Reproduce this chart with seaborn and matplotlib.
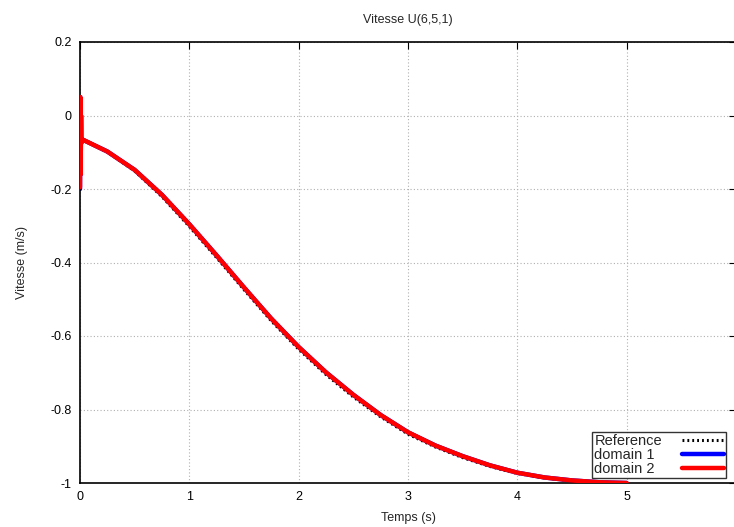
import matplotlib
matplotlib.use("Agg")
import matplotlib.pyplot as plt
import seaborn as sns
import pandas as pd

# ---- data ----
t_ref = [0.0, 0.25, 0.5, 0.75, 1.0, 1.25, 1.5, 1.75, 2.0, 2.25, 2.5, 2.75, 3.0,
         3.25, 3.5, 3.75, 4.0, 4.25, 4.5, 4.75, 5.0]
v_ref = [-0.063, -0.099, -0.151, -0.221, -0.302, -0.387, -0.474, -0.559, -0.636, -0.705,
         -0.766, -0.820, -0.867, -0.902, -0.931, -0.955, -0.974, -0.986, -0.994, -0.998, -1.0]

t_dom1 = [0.0, 0.003, 0.006, 0.009, 0.012, 0.02, 0.25, 0.5, 0.75, 1.0, 1.25, 1.5, 1.75,
          2.0, 2.25, 2.5, 2.75, 3.0, 3.25, 3.5, 3.75, 4.0, 4.25, 4.5, 4.75, 5.0]
v_dom1 = [-0.2, 0.05, -0.16, 0.0, -0.075, -0.065, -0.098, -0.148, -0.216, -0.296, -0.381,
          -0.468, -0.553, -0.630, -0.699, -0.760, -0.815, -0.862, -0.898, -0.927, -0.952,
          -0.972, -0.985, -0.993, -0.998, -1.0]

t_dom2 = [0.0, 0.003, 0.006, 0.009, 0.012, 0.02, 0.25, 0.5, 0.75, 1.0, 1.25, 1.5, 1.75,
          2.0, 2.25, 2.5, 2.75, 3.0, 3.25, 3.5, 3.75, 4.0, 4.25, 4.5, 4.75, 5.0]
v_dom2 = [-0.195, 0.05, -0.16, 0.0, -0.075, -0.065, -0.098, -0.148, -0.216, -0.296, -0.381,
          -0.468, -0.553, -0.630, -0.699, -0.760, -0.815, -0.862, -0.898, -0.927, -0.952,
          -0.972, -0.985, -0.993, -0.998, -1.0]

x_ticks = [0, 1, 2, 3, 4, 5, 6]
x_ticklabels = ["0", "1", "2", "3", "4", "5", ""]
y_ticks = [0.2, 0, -0.2, -0.4, -0.6, -0.8, -1]
y_ticklabels = ["0.2", "0", "-0.2", "-0.4", "-0.6", "-0.8", "-1"]
series_labels = ["Reference", "domain 1  ", "domain 2  "]

sns.set_style("white")
plt.rcParams["font.family"] = ["Liberation Sans", "DejaVu Sans"]

fig = plt.figure(figsize=(7.34, 5.27), dpi=100)
ax = fig.add_axes([80 / 734, 44 / 527, 656 / 734, 441 / 527])

df_ref = pd.DataFrame({"t": t_ref, "v": v_ref})
df_d1 = pd.DataFrame({"t": t_dom1, "v": v_dom1})
df_d2 = pd.DataFrame({"t": t_dom2, "v": v_dom2})

sns.lineplot(data=df_ref, x="t", y="v", ax=ax, color="black", linewidth=2.2,
             linestyle=(0, (0.6, 1.0)), label=series_labels[0], zorder=3, sort=False)
sns.lineplot(data=df_d1, x="t", y="v", ax=ax, color="#0000ff", linewidth=3.2,
             label=series_labels[1], zorder=2, sort=False)
sns.lineplot(data=df_d2, x="t", y="v", ax=ax, color="#ff0000", linewidth=3.2,
             label=series_labels[2], zorder=4, sort=False)

ax.set_xlim(0, 6)
ax.set_ylim(-1, 0.2)
ax.set_xticks(x_ticks)
ax.set_xticklabels(x_ticklabels)
ax.set_yticks(y_ticks)
ax.set_yticklabels(y_ticklabels)
ax.tick_params(direction="in", length=5, width=0.8, labelsize=9, colors="black",
               top=True, right=True, pad=6)
ax.grid(True, color="#b0b0b0", linestyle=(0, (1, 2)), linewidth=0.8)
for s in ax.spines.values():
    s.set_color("black")
    s.set_linewidth(1.2)

ax.set_xlabel("Temps (s)", fontsize=9, labelpad=6)
ax.set_ylabel("Vitesse (m/s)", fontsize=9, labelpad=16)
ax.set_title("Vitesse U(6,5,1)", fontsize=9, pad=14)

leg = ax.legend(loc="lower right", bbox_to_anchor=(0.992, 0.0),
                markerfirst=False, fontsize=10.5, frameon=True, fancybox=False,
                borderpad=0.12, labelspacing=0.0, handlelength=2.9,
                handletextpad=1.3, borderaxespad=0.35)
leg.get_frame().set_edgecolor("black")
leg.get_frame().set_linewidth(1.0)

fig.savefig("out.png", dpi=100)
